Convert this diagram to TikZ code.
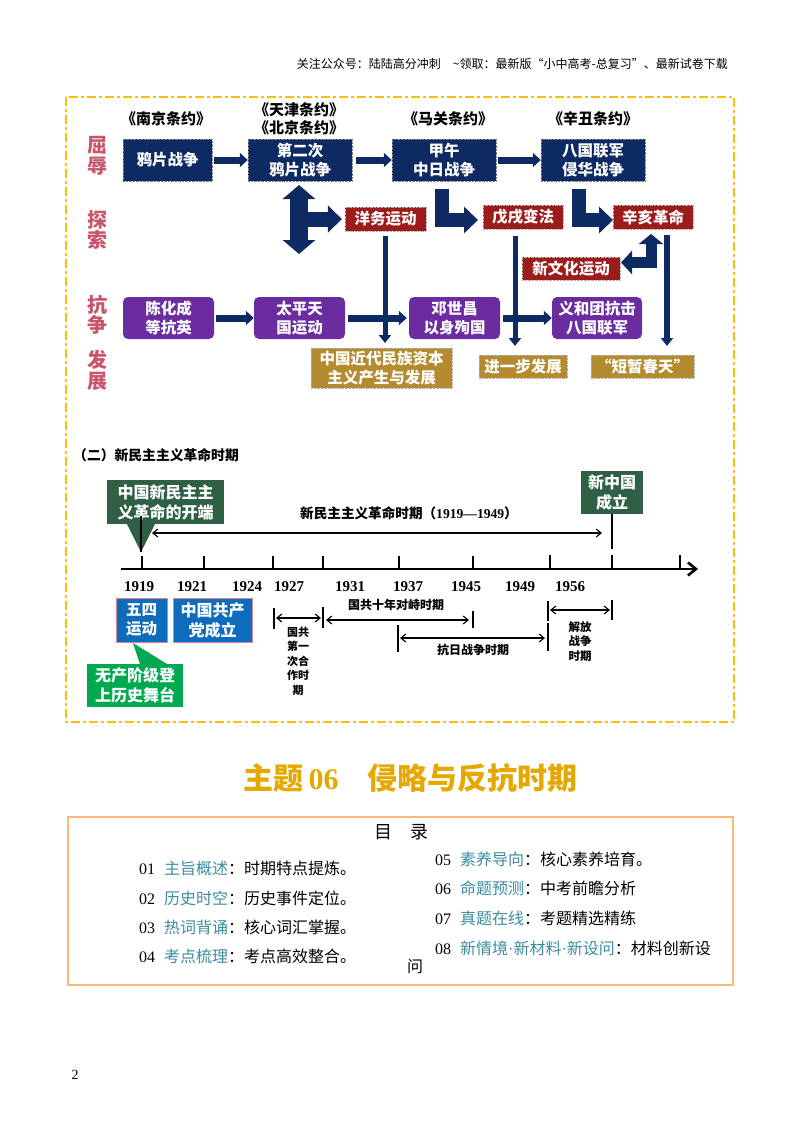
\documentclass[tikz,border=0pt]{standalone}
\usepackage{fontspec}
\setmainfont{Noto Sans CJK SC}
\newfontfamily\numfont{Liberation Serif}
\usetikzlibrary{arrows.meta}
\definecolor{navyblue}{RGB}{14,42,99}
\definecolor{darkred}{RGB}{156,28,28}
\definecolor{warpurple}{RGB}{106,44,158}
\definecolor{goldbrown}{RGB}{181,139,48}
\definecolor{sidepink}{RGB}{201,84,107}
\definecolor{framegold}{RGB}{255,192,0}
\definecolor{forestgreen}{RGB}{47,96,68}
\definecolor{brightgreen}{RGB}{0,168,80}
\definecolor{eventblue}{RGB}{15,108,189}
\definecolor{tocorange}{RGB}{251,184,122}
\definecolor{tocteal}{RGB}{60,139,160}
\definecolor{titlegold}{RGB}{229,168,0}
\newcommand{\fs}[2]{\fontsize{#1}{#2}\selectfont}

\begin{document}
\begin{tikzpicture}[x=1pt, y=-1pt]
            \tikzstyle{basebox} = [inner sep=0pt, align=center, text=white, font=\fs{15.5}{19}\bfseries]
            \tikzstyle{navybox} = [basebox, fill=navyblue, draw=gray, densely dotted, minimum width=104, minimum height=42]
            \tikzstyle{redbox} = [basebox, fill=darkred, draw=gray!60, densely dotted, minimum height=24]
            \tikzstyle{purplebox} = [basebox, fill=warpurple, rounded corners=5pt, minimum width=91, minimum height=42]
            \tikzstyle{goldbox} = [basebox, fill=goldbrown, draw=gray!60, densely dotted, minimum height=23]
            \tikzstyle{treaty} = [inner sep=0pt, font=\fs{15}{19}\bfseries]
            \tikzstyle{sidelabel} = [inner sep=0pt, text=sidepink, font=\fs{20}{20}\bfseries]
            \tikzstyle{flow} = [navyblue, line width=7pt, shorten <=2pt, -{Triangle[length=8pt, width=14pt]}]
            \tikzstyle{bigflow} = [navyblue, line width=14pt, line join=miter, -{Triangle[length=14pt, width=26pt]}]
            \tikzstyle{slimflow} = [navyblue, line width=5pt, -{Triangle[length=8pt, width=12pt]}]
            \tikzstyle{axistick} = [line width=1.2pt]
            \tikzstyle{spanarrow} = [line width=1.1pt, {Straight Barb[length=5pt, width=8pt]}-{Straight Barb[length=5pt, width=8pt]}]
            \tikzstyle{year} = [inner sep=0pt, font=\fs{15}{15}\bfseries\numfont]
            \tikzstyle{periodtext} = [inner sep=0pt, align=center, font=\fs{11.5}{14.5}\bfseries]
            \tikzstyle{tocitem} = [inner sep=0pt, anchor=west, font=\fs{16}{16}]

            \useasboundingbox (0,0) rectangle (800,1132);
            \node[inner sep=0pt, anchor=east, font=\fs{12}{12}] (header) at (728,64) {关注公众号：陆陆高分冲刺\hspace{12pt}\textasciitilde 领取：最新版“小中高考-总复习”、最新试卷下载};
            \draw[framegold, line width=2.4pt, dash pattern=on 9pt off 3pt on 3pt off 3pt] (66,97) rectangle (734,722);

            \node[sidelabel] (qu) at (97,145) {屈};
            \node[sidelabel] (ru) at (97,166) {辱};
            \node[sidelabel] (tan) at (97,220) {探};
            \node[sidelabel] (suo) at (97,240) {索};
            \node[sidelabel] (kang) at (97,305) {抗};
            \node[sidelabel] (zheng) at (97,325) {争};
            \node[sidelabel] (fa) at (97,360) {发};
            \node[sidelabel] (zhan) at (97,381) {展};

            \node[treaty] (nanjing) at (166,119) {《南京条约》};
            \node[treaty] (tianjin) at (299,110) {《天津条约》};
            \node[treaty] (beijing) at (299,128) {《北京条约》};
            \node[treaty] (maguan) at (448,119) {《马关条约》};
            \node[treaty] (xinchou) at (593,119) {《辛丑条约》};

            \node[navybox, minimum width=89] (yapian) at (167.5,160) {鸦片战争};
            \node[navybox] (dierci) at (300,160) {第二次\\鸦片战争};
            \node[navybox] (jiawu) at (444,160) {甲午\\中日战争};
            \node[navybox] (baguo) at (593,160) {八国联军\\侵华战争};
            \draw[flow] (yapian) -- (dierci);
            \draw[flow, shorten <=4pt] (dierci) -- (jiawu);
            \draw[flow] (jiawu) -- (baguo);

            \node[redbox, minimum width=81] (yangwu) at (385.5,219) {洋务运动};
            \node[redbox, minimum width=80] (wuxu) at (523,217) {戊戌变法};
            \node[redbox, minimum width=80] (xinhai) at (653,217) {辛亥革命};
            \node[redbox, minimum width=98, minimum height=23] (xinwenhua) at (571,268.5) {新文化运动};

            \coordinate (crosstop) at (299,185);
            \coordinate (crossbottom) at (299,254);
            \coordinate (crossmid) at (299,219);
            \coordinate (jiawudown) at (441.5,189);
            \coordinate (baguodown) at (578.5,189);
            \coordinate (wuxuin) at (478,220);
            \coordinate (xinhaiin) at (613,220);
            \coordinate (xinhaiup) at (651,234);
            \coordinate (xinwenhuaout) at (621,262.5);

            \draw[navyblue, line width=18pt, {Triangle[length=14pt, width=32pt]}-{Triangle[length=14pt, width=32pt]}] (crosstop) -- (crossbottom);
            \draw[navyblue, line width=15pt, shorten >=3pt, -{Triangle[length=14pt, width=27pt]}] (crossmid) -- (yangwu);
            \draw[bigflow] (jiawudown) |- (wuxuin);
            \draw[bigflow] (baguodown) |- (xinhaiin);
            \draw[navyblue, line width=11pt, line join=miter, {Triangle[length=11pt, width=23pt]}-{Triangle[length=10pt, width=24pt]}] (xinwenhuaout) -| (xinhaiup);

            \node[purplebox] (chenhuacheng) at (168.5,318) {陈化成\\等抗英};
            \node[purplebox] (taiping) at (299.5,318) {太平天\\国运动};
            \node[purplebox] (dengshichang) at (454.5,318) {邓世昌\\以身殉国};
            \node[purplebox, minimum width=90] (yihetuan) at (597,318) {义和团抗击\\八国联军};
            \draw[flow] (chenhuacheng) -- (taiping);
            \draw[flow, shorten <=3pt, shorten >=2pt] (taiping) -- (dengshichang);
            \draw[flow, shorten <=3pt] (dengshichang) -- (yihetuan);

            \node[goldbox, minimum width=141, minimum height=40] (zibenzhuyi) at (381.5,368) {中国近代民族资本\\主义产生与发展};
            \node[goldbox, minimum width=88] (jinyibu) at (523,366.5) {进一步发展};
            \node[goldbox, minimum width=103] (duanzan) at (642.5,366.5) {“短暂春天”};

            \coordinate (yangwuend) at (385,343);
            \coordinate (wuxuend) at (515,346);
            \coordinate (xinhaistart) at (667,235);
            \coordinate (xinhaiend) at (667,346);
            \draw[slimflow] (yangwu.south -| yangwuend) ++(0,5) -- (yangwuend);
            \draw[slimflow] (wuxu.south -| wuxuend) ++(0,7) -- (wuxuend);
            \draw[slimflow, line width=6.5pt] (xinhaistart) -- (xinhaiend);

            \node[inner sep=0pt, anchor=west, font=\fs{13.8}{14}\bfseries] (sectiontitle) at (73,455) {（二）新民主主义革命时期};

            \fill[forestgreen] (127,524) -- (141,552) -- (155,524) -- cycle;
            \node[basebox, fill=forestgreen, minimum width=117, minimum height=44, font=\fs{16}{20}\bfseries] (kaiduan) at (165.5,502) {中国新民主主\\义革命的开端};
            \node[basebox, fill=forestgreen, minimum width=62, minimum height=43, font=\fs{16}{20}\bfseries] (xinzhongguo) at (612,492.5) {新中国\\成立};
            \draw[line width=1.3pt] (141,516) -- (141,552);
            \draw[line width=1.3pt] (xinzhongguo.south) -- (612,549);

            \coordinate (wholeleft) at (152,533);
            \coordinate (wholeright) at (602,533);
            \draw[spanarrow] (wholeleft) -- (wholeright);
            \node[inner sep=0pt, font=\fs{13.6}{14}\bfseries] (wholetext) at (409,513) {新民主主义革命时期（{\numfont 1919—1949}）};

            \draw[line width=2.6pt, -{Straight Barb[length=8pt, width=13pt]}] (121,569) -- (698,569);
            \draw[axistick] (142,556) -- (142,569);
            \draw[axistick] (204,556) -- (204,569);
            \draw[axistick] (273,556) -- (273,569);
            \draw[axistick] (323,556) -- (323,569);
            \draw[axistick] (399,556) -- (399,569);
            \draw[axistick] (473,556) -- (473,569);
            \draw[axistick] (550,555) -- (550,569);
            \draw[axistick] (612,555) -- (612,569);
            \draw[axistick] (680,555) -- (680,569);

            \node[year] (y1919) at (139,587) {1919};
            \node[year] (y1921) at (192,587) {1921};
            \node[year] (y1924) at (247,587) {1924};
            \node[year] (y1927) at (289,587) {1927};
            \node[year] (y1931) at (350,587) {1931};
            \node[year] (y1937) at (408,587) {1937};
            \node[year] (y1945) at (466,587) {1945};
            \node[year] (y1949) at (520,587) {1949};
            \node[year] (y1956) at (570,587) {1956};

            \node[basebox, fill=eventblue, draw=sidepink!70, line width=0.5pt, minimum width=51, minimum height=44] (wusi) at (141.5,620) {五四\\运动};
            \node[basebox, fill=eventblue, draw=sidepink!70, line width=0.5pt, minimum width=79, minimum height=44, font=\fs{16}{20}\bfseries] (gongchandang) at (212.5,620) {中国共产\\党成立};
            \fill[brightgreen] (133,643) -- (140,664) -- (167,664) -- cycle;
            \node[basebox, fill=brightgreen, minimum width=96, minimum height=43, font=\fs{16}{20}\bfseries] (wuchanjieji) at (135,685.5) {无产阶级登\\上历史舞台};

            \draw[line width=1.2pt] (274,608) -- (274,629);
            \draw[line width=2pt] (323,607) -- (323,628);
            \coordinate (firstleft) at (276,618);
            \coordinate (firstright) at (321,618);
            \draw[spanarrow] (firstleft) -- (firstright);
            \node[periodtext, font=\fs{11}{14.5}\bfseries] (hezuo) at (298,661) {国共\\第一\\次合\\作时\\期};

            \draw[line width=1.2pt] (473,611) -- (473,628);
            \coordinate (tenleft) at (326,620);
            \coordinate (tenright) at (469,620);
            \draw[spanarrow] (tenleft) -- (tenright);
            \node[periodtext, font=\fs{12}{14}\bfseries] (duizhi) at (396,605) {国共十年对峙时期};

            \draw[line width=1.2pt] (398,625) -- (398,652);
            \draw[line width=1.2pt] (548,623) -- (548,651);
            \coordinate (warleft) at (400,638);
            \coordinate (warright) at (545,638);
            \draw[spanarrow] (warleft) -- (warright);
            \node[periodtext, font=\fs{12}{14}\bfseries] (kangri) at (473,650) {抗日战争时期};

            \draw[line width=1.2pt] (548,601) -- (548,621);
            \draw[line width=1.2pt] (612,600) -- (612,620);
            \coordinate (libleft) at (550,610);
            \coordinate (libright) at (610,610);
            \draw[spanarrow] (libleft) -- (libright);
            \node[periodtext] (jiefang) at (580,641.5) {解放\\战争\\时期};

            \node[inner sep=0pt, text=titlegold, font=\fs{30}{30}\bfseries] (maintitle) at (410.5,778) {主题{\numfont\,06}\hspace{29pt}侵略与反抗时期};

            \draw[tocorange, line width=2.6pt] (68,817) rectangle (733,985);
            \node[inner sep=0pt, font=\fs{18}{18}] (mulu) at (401,832) {目\hspace{18pt}录};
            \node[tocitem] (item1) at (139,868) {{\numfont 01}\hspace{9pt}\textcolor{tocteal}{主旨概述}：时期特点提炼。};
            \node[tocitem] (item2) at (139,898) {{\numfont 02}\hspace{9pt}\textcolor{tocteal}{历史时空}：历史事件定位。};
            \node[tocitem] (item3) at (139,927) {{\numfont 03}\hspace{9pt}\textcolor{tocteal}{热词背诵}：核心词汇掌握。};
            \node[tocitem] (item4) at (139,956) {{\numfont 04}\hspace{9pt}\textcolor{tocteal}{考点梳理}：考点高效整合。};
            \node[tocitem] (item5) at (435,859) {{\numfont 05}\hspace{9pt}\textcolor{tocteal}{素养导向}：核心素养培育。};
            \node[tocitem] (item6) at (435,888) {{\numfont 06}\hspace{9pt}\textcolor{tocteal}{命题预测}：中考前瞻分析};
            \node[tocitem] (item7) at (435,918) {{\numfont 07}\hspace{9pt}\textcolor{tocteal}{真题在线}：考题精选精练};
            \node[tocitem] (item8) at (435,948) {{\numfont 08}\hspace{9pt}\textcolor{tocteal}{新情境{\numfont ·}新材料{\numfont ·}新设问}：材料创新设};
            \node[tocitem] (item8rest) at (407,967) {问};

            \node[inner sep=0pt, font=\fs{14}{14}\numfont] (pagenumber) at (75,1075) {2};
        \end{tikzpicture}
\end{document}
